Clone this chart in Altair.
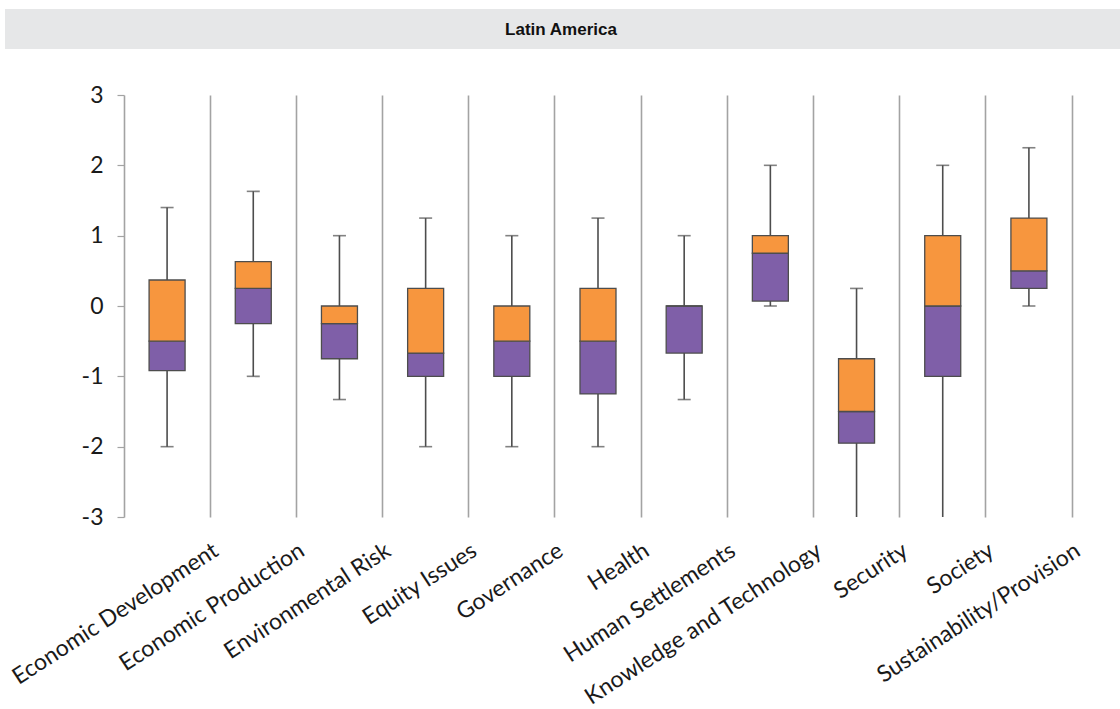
import altair as alt
import pandas as pd

# Box-plot summary per indicator group (Latin America)
categories = [
    "Economic Development", "Economic Production", "Environmental Risk",
    "Equity Issues", "Governance", "Health", "Human Settlements",
    "Knowledge and Technology", "Security", "Society",
    "Sustainability/Provision",
]
whisker_low = [-2.0, -1.0, -1.33, -2.0, -2.0, -2.0, -1.33, 0.0, -3.0, -3.0, 0.0]
box_low = [-0.92, -0.25, -0.75, -1.0, -1.0, -1.25, -0.67, 0.07, -1.95, -1.0, 0.25]
median = [-0.5, 0.25, -0.25, -0.67, -0.5, -0.5, 0.0, 0.75, -1.5, 0.0, 0.5]
box_high = [0.37, 0.63, 0.0, 0.25, 0.0, 0.25, 0.0, 1.0, -0.75, 1.0, 1.25]
whisker_high = [1.4, 1.63, 1.0, 1.25, 1.0, 1.25, 1.0, 2.0, 0.25, 2.0, 2.25]
y_ticks = [-3, -2, -1, 0, 1, 2, 3]
panel_title = "Latin America"

ORANGE = "#F7963E"
PURPLE = "#7F5FA8"
OUTLINE = "#4d4d4d"
SEP = "#a3a3a3"

df = pd.DataFrame({
    "category": categories,
    "wlow": whisker_low,
    "q1": box_low,
    "med": median,
    "q3": box_high,
    "whigh": whisker_high,
})

W, H = 948, 422
LEFT, TOP = 124, 95

x_enc = alt.X(
    "category:N",
    sort=categories,
    title=None,
    scale=alt.Scale(paddingInner=0, paddingOuter=0),
    axis=alt.Axis(
        bandPosition=1,
        domain=False,
        ticks=False,
        grid=True,
        gridColor=SEP,
        gridWidth=1.6,
        labelAngle=-33,
        labelAlign="right",
        labelBaseline="top",
        labelPadding=22,
        labelOffset=43,
        labelFont="Lato",
        labelFontSize=23,
        labelColor="#1a1a1a",
        labelLimit=400,
    ),
)

y_axis = alt.Axis(
    values=y_ticks,
    title=None,
    grid=False,
    domainColor=SEP,
    domainWidth=1.6,
    tickColor=SEP,
    tickSize=7,
    tickWidth=1.2,
    labelExpr="'' + datum.value",
    labelFont="Lato",
    labelFontSize=23,
    labelColor="#1a1a1a",
    labelPadding=14,
)
y_scale = alt.Scale(domain=[-3, 3], nice=False)

base = alt.Chart(df)

whiskers = base.mark_rule(color=OUTLINE, strokeWidth=1.6).encode(
    x=x_enc,
    y=alt.Y("wlow:Q", scale=y_scale, axis=y_axis),
    y2="whigh:Q",
)

cap_high = base.mark_tick(color=OUTLINE, size=13, thickness=1.6).encode(
    x=x_enc,
    y=alt.Y("whigh:Q", scale=y_scale, axis=y_axis),
)

cap_low = base.transform_filter("datum.wlow > -3").mark_tick(
    color=OUTLINE, size=13, thickness=1.6
).encode(
    x=x_enc,
    y=alt.Y("wlow:Q", scale=y_scale, axis=y_axis),
)

lower_box = base.mark_bar(
    size=36, color=PURPLE, stroke=OUTLINE, strokeWidth=1.3
).encode(
    x=x_enc,
    y=alt.Y("q1:Q", scale=y_scale, axis=y_axis),
    y2="med:Q",
)

upper_box = base.mark_bar(
    size=36, color=ORANGE, stroke=OUTLINE, strokeWidth=1.3
).encode(
    x=x_enc,
    y=alt.Y("med:Q", scale=y_scale, axis=y_axis),
    y2="q3:Q",
)

# Grey heading band above the plot
head = pd.DataFrame({"title": [panel_title]})
band = alt.Chart(head).mark_rect(color="#E6E7E8").encode(
    x=alt.value(5 - LEFT),
    x2=alt.value(1120 - LEFT),
    y=alt.value(9 - TOP),
    y2=alt.value(49 - TOP),
)
heading = alt.Chart(head).mark_text(
    font="Liberation Sans",
    fontSize=17,
    fontWeight="bold",
    color="#111111",
    align="center",
    baseline="middle",
).encode(
    x=alt.value(561 - LEFT),
    y=alt.value(30 - TOP),
    text="title:N",
)

chart = alt.layer(
    whiskers, cap_high, cap_low, lower_box, upper_box, band, heading
).properties(
    width=W,
    height=H,
    padding={"left": LEFT, "top": TOP, "right": 1120 - LEFT - W, "bottom": 709 - TOP - H},
    autosize=alt.AutoSizeParams(type="none"),
    background="white",
).configure_view(stroke=None)

chart.save("out.html", embed_options={"renderer": "svg", "actions": False})
